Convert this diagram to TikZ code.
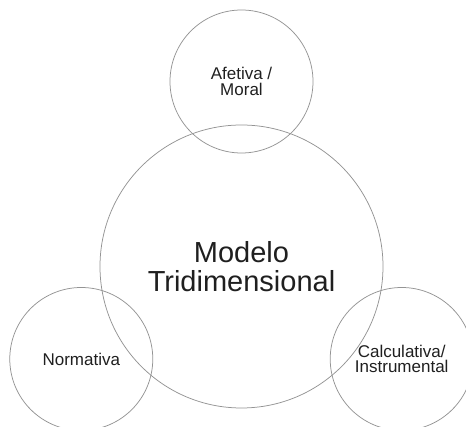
\documentclass[tikz,border=0pt]{standalone}
\usepackage{fontspec}
\setmainfont{Liberation Sans}
\usepackage{tikz}

\begin{document}
\begin{tikzpicture}
		\tikzset{
			bigcirc/.style={
				draw=black!42, line width=0.75pt, circle, inner sep=0pt,
				minimum size=283pt, text=black!88, align=center,
				font=\fontsize{29}{29}\selectfont
			},
			dimcirc/.style={
				bigcirc, minimum size=143pt,
				font=\fontsize{17}{15.5}\selectfont
			}
		}
		\useasboundingbox (-241.5pt,-160.5pt) rectangle (224.5pt,266.5pt);
		
		\node [bigcirc] (modelo) at (0,0) {Modelo\\Tridimensional};
		
		\foreach \ang/\name/\txt in {90/afetiva/{Afetiva /\\Moral}, 210/normativa/{Normativa}, -30/calculativa/{Calculativa/\\Instrumental}}{
			\node [dimcirc] (\name) at (\ang:185pt) {\txt};
		}
		\end{tikzpicture}
\end{document}
